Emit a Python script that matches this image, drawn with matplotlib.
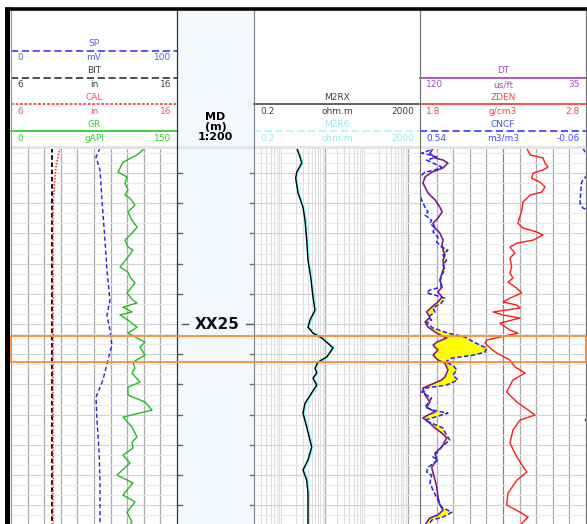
import numpy as np
import matplotlib.pyplot as plt
from matplotlib.ticker import LogLocator, MultipleLocator
from matplotlib.patches import Rectangle
from matplotlib.transforms import blended_transform_factory

W, H = 587, 524
TOP, BOT = 19.17, 31.62   # depth (m) at top / bottom of the data area

# ---- curves (depth in m below XX00) ----
gr_depth = [19.17, 19.40, 19.64, 19.97, 20.13, 20.33, 20.56, 20.73, 20.83, 21.06,
            21.29, 21.56, 21.79, 21.99, 22.22, 22.45, 22.55, 22.78, 23.11, 23.28,
            23.44, 23.64, 23.97, 24.21, 24.30, 24.44, 24.60, 24.70, 24.87, 25.10,
            25.30, 25.60, 25.76, 26.03, 26.26, 26.46, 26.62, 26.92, 27.09, 27.35,
            27.58, 27.85, 28.08, 28.41, 28.74, 28.91, 29.11, 29.34, 29.60, 30.00,
            30.26, 30.66, 30.89, 31.23, 31.56, 31.70]
gr = [121.1, 113.9, 101.2, 96.7, 104.8, 103.0, 105.7, 103.0, 107.5, 112.0,
      105.7, 109.3, 113.9, 109.3, 103.0, 105.7, 110.2, 105.7, 98.5, 105.7,
      107.5, 112.0, 104.8, 110.2, 113.9, 101.2, 109.3, 98.5, 105.7, 113.9,
      105.7, 121.1, 116.6, 121.1, 110.2, 112.0, 109.3, 116.6, 105.7, 105.7,
      121.1, 127.4, 101.2, 109.3, 113.9, 109.3, 110.2, 101.2, 107.5, 95.8,
      110.2, 101.2, 112.0, 104.8, 109.3, 106.0]

sp_depth = [19.17, 19.47, 19.90, 20.89, 22.22, 23.21, 24.21, 24.70, 25.20, 25.70,
            26.19, 26.85, 27.42, 28.18, 29.17, 30.17, 31.70]
sp = [53.6, 51.2, 53.6, 54.8, 56.6, 57.8, 59.6, 57.8, 59.6, 60.8,
      58.4, 55.4, 51.2, 51.8, 53.0, 53.6, 53.6]

bit_depth = [19.17, 31.70]
bit = [8.48, 8.48]
cal_depth = [19.17, 19.74, 20.40, 21.23, 31.70]
cal = [8.95, 8.72, 8.60, 8.53, 8.53]

res_depth = [19.17, 19.47, 19.67, 19.97, 20.17, 20.66, 21.13, 21.56, 22.22, 22.88,
             23.44, 24.11, 24.54, 24.87, 25.10, 25.30, 25.46, 25.60, 25.79, 26.09,
             26.26, 26.46, 26.62, 26.79, 27.02, 27.28, 27.62, 27.95, 28.41, 29.07,
             29.50, 29.83, 30.17, 30.60, 31.26, 31.70]
m2rx = [2.14, 2.57, 2.82, 2.14, 2.02, 2.30, 3.03, 3.39, 3.72, 4.0,
        4.65, 5.28, 5.90, 4.47, 4.0, 5.28, 8.55, 11.3, 16.0, 11.3,
        6.97, 5.90, 6.49, 5.28, 6.49, 4.91, 3.39, 3.03, 3.72, 4.91,
        4.0, 3.03, 3.72, 4.0, 4.0, 4.0]
m2r6 = [2.22, 2.67, 2.93, 2.22, 2.10, 2.39, 3.15, 3.53, 3.87, 4.16,
        4.84, 5.49, 6.14, 4.65, 4.16, 5.49, 8.89, 11.8, 16.6, 11.8,
        7.25, 6.14, 6.75, 5.49, 6.75, 5.11, 3.53, 3.15, 3.87, 5.11,
        4.16, 3.15, 3.87, 4.16, 4.16, 4.16]

dt_depth = [19.17, 19.34, 19.50, 19.57, 19.67, 19.83, 19.97, 20.13, 20.33, 20.66,
            20.89, 21.13, 21.29, 21.49, 21.66, 21.82, 21.99, 22.22, 22.38, 22.55,
            22.72, 22.88, 23.11, 23.31, 23.54, 23.77, 23.94, 24.11, 24.30, 24.44,
            24.60, 24.77, 24.93, 25.10, 25.26, 25.36, 25.46, 25.60, 25.70, 25.86,
            26.03, 26.19, 26.29, 26.52, 26.75, 26.85, 27.02, 27.12, 27.35, 27.58,
            27.75, 27.91, 28.01, 28.11, 28.28, 28.44, 28.61, 28.77, 29.07, 29.27,
            29.50, 29.74, 29.93, 30.17, 30.40, 30.73, 30.99, 31.16, 31.32, 31.42,
            31.56, 31.70]
dt = [113.2, 114.9, 112.3, 108.2, 105.7, 108.2, 114.0, 117.4, 118.5, 115.9,
      112.3, 109.8, 108.7, 110.8, 113.3, 112.3, 109.8, 108.2, 108.7, 108.2,
      107.2, 108.2, 107.7, 108.7, 109.8, 108.7, 110.8, 108.7, 111.4, 114.0,
      116.6, 114.9, 117.4, 115.9, 112.3, 109.8, 106.3, 111.4, 113.3, 110.8,
      113.3, 110.8, 107.2, 105.7, 107.2, 108.9, 114.9, 118.5, 117.4, 114.9,
      116.6, 112.3, 115.9, 118.5, 114.9, 112.3, 108.9, 106.3, 108.9, 112.3,
      111.4, 114.0, 113.3, 112.3, 111.4, 110.8, 109.8, 108.2, 110.8, 114.9,
      116.6, 117.5]

cncf_depth = [19.24, 19.34, 19.40, 19.47, 19.57, 19.80, 19.90, 19.97, 20.07, 20.33,
              20.56, 20.89, 21.13, 21.29, 21.39, 21.56, 21.66, 21.82, 21.95, 22.12,
              22.28, 22.45, 22.55, 22.72, 22.88, 23.05, 23.21, 23.38, 23.61, 23.77,
              23.87, 23.97, 24.04, 24.14, 24.30, 24.47, 24.60, 24.77, 24.87, 24.97,
              25.13, 25.30, 25.43, 25.53, 25.70, 25.79, 25.93, 26.03, 26.13, 26.26,
              26.36, 26.52, 26.69, 26.85, 27.02, 27.12, 27.25, 27.45, 27.62, 27.75,
              27.85, 27.95, 28.08, 28.18, 28.28, 28.44, 28.68, 28.84, 29.07, 29.27,
              29.40, 29.50, 29.74, 29.90, 30.00, 30.26, 30.50, 30.83, 31.06, 31.23,
              31.39, 31.49, 31.70]
cncf = [0.504, 0.534, 0.504, 0.480, 0.516, 0.462, 0.486, 0.522, 0.534, 0.545,
        0.545, 0.534, 0.522, 0.511, 0.522, 0.498, 0.504, 0.486, 0.493, 0.475,
        0.480, 0.462, 0.439, 0.457, 0.444, 0.457, 0.450, 0.462, 0.468, 0.462,
        0.504, 0.516, 0.486, 0.450, 0.462, 0.493, 0.486, 0.511, 0.498, 0.516,
        0.493, 0.439, 0.377, 0.359, 0.323, 0.299, 0.305, 0.348, 0.425, 0.450,
        0.421, 0.407, 0.421, 0.403, 0.444, 0.522, 0.534, 0.498, 0.511, 0.522,
        0.493, 0.439, 0.486, 0.522, 0.498, 0.457, 0.444, 0.432, 0.462, 0.480,
        0.493, 0.475, 0.511, 0.516, 0.498, 0.504, 0.493, 0.475, 0.462, 0.425,
        0.457, 0.498, 0.510]
# neutron values past the left edge, wrapped onto the right side
cncf_wrap_depth = [19.17, 19.34, 19.45, 20.05, 20.13, 20.30, 20.99, 21.16, 21.25,
                   28.10, 28.18, 28.26]
cncf_wrap = [-0.049, -0.058, -0.075, -0.075, -0.058, -0.044, -0.038, -0.049, -0.075,
             -0.075, -0.057, -0.075]

zden_depth = [19.17, 19.40, 19.50, 19.67, 19.80, 19.90, 20.00, 20.17, 20.30, 20.46,
              20.63, 20.73, 20.96, 21.23, 21.66, 21.82, 21.95, 22.05, 22.22, 22.32,
              22.45, 22.65, 22.81, 23.11, 23.31, 23.48, 23.61, 23.81, 23.97, 24.14,
              24.27, 24.37, 24.47, 24.60, 24.70, 24.80, 24.97, 25.20, 25.30, 25.43,
              25.53, 25.63, 25.79, 25.96, 26.19, 26.42, 26.62, 26.85, 27.25, 27.58,
              28.01, 28.18, 28.51, 28.94, 29.40, 29.90, 30.17, 30.60, 30.99, 31.23,
              31.39, 31.56, 31.70]
zden = [2.443, 2.463, 2.541, 2.553, 2.571, 2.541, 2.481, 2.473, 2.523, 2.553,
        2.533, 2.463, 2.420, 2.413, 2.390, 2.420, 2.503, 2.541, 2.481, 2.383,
        2.342, 2.372, 2.342, 2.352, 2.342, 2.360, 2.330, 2.383, 2.413, 2.342,
        2.300, 2.383, 2.402, 2.240, 2.300, 2.402, 2.282, 2.342, 2.390, 2.282,
        2.202, 2.192, 2.222, 2.262, 2.342, 2.372, 2.433, 2.360, 2.322, 2.383,
        2.493, 2.402, 2.360, 2.342, 2.383, 2.443, 2.383, 2.330, 2.322, 2.402,
        2.451, 2.420, 2.400]

depth_ticks = list(range(20, 32))
depth_labels = {25: 'XX25'}
zone_top, zone_bottom = 25.41, 26.24

# track edges in pixels
X1 = (11, 177)
XD = (177, 254)
X3 = (254, 420)
X4 = (420, 586)
DATA_TOP = 148


def frac(x0, y0, x1, y1):
    return [x0 / W, 1 - y1 / H, (x1 - x0) / W, (y1 - y0) / H]


fig = plt.figure(figsize=(W / 100, H / 100), dpi=100)
bg = fig.add_axes([0, 0, 1, 1])
bg.set_xlim(0, W)
bg.set_ylim(H, 0)
bg.axis('off')
bg.add_patch(Rectangle((XD[0], 11), XD[1] - XD[0], H - 11, color='#f4f8fd', lw=0))


def header(xr, slot, name, unit, lo, hi, color, ls, txt=None):
    txt = txt or color
    x0, x1 = xr
    xm = (x0 + x1) / 2
    yl = 43.5 + 27 * slot
    yline = 51 + 26.7 * slot
    yu = 58 + 26.7 * slot
    kw = dict(va='center', fontsize=6.5, color=txt)
    bg.text(xm, yl, name, ha='center', **kw)
    bg.plot([x0, x1], [yline, yline], color=color, ls=ls, lw=1.3)
    bg.text(x0 + 6, yu, lo, ha='left', **kw)
    bg.text(xm, yu, unit, ha='center', **kw)
    bg.text(x1 - 6, yu, hi, ha='right', **kw)


header(X1, 0, 'SP', 'mV', '0', '100', '#4a4aff', (0, (4, 2)), '#5a5aff')
header(X1, 1, 'BIT', 'in', '6', '16', '#404040', (0, (4, 2)))
header(X1, 2, 'CAL', 'in', '6', '16', '#ff4040', (0, (1.5, 1)), '#ff4d4d')
header(X1, 3, 'GR', 'gAPI', '0', '150', '#33cc33', '-')
header(X3, 2, 'M2RX', 'ohm.m', '0.2', '2000', '#555555', '-', '#404040')
header(X3, 3, 'M2R6', 'ohm.m', '0.2', '2000', '#b0f8f8', (0, (4, 2)), '#8ff0f0')
header(X4, 1, 'DT', 'us/ft', '120', '35', '#a050c0', '-')
header(X4, 2, 'ZDEN', 'g/cm3', '1.8', '2.8', '#ff4040', '-')
header(X4, 3, 'CNCF', 'm3/m3', '0.54', '-0.06', '#4848ff', (0, (4, 2)))
bg.text((XD[0] + XD[1]) / 2, 127, 'MD\n(m)\n1:200', ha='center', va='center',
        fontsize=8, fontweight='bold', linespacing=0.95)


def track(xr):
    ax = fig.add_axes(frac(xr[0], DATA_TOP, xr[1], H))
    ax.set_ylim(BOT, TOP)
    for s in ax.spines.values():
        s.set_visible(False)
    ax.yaxis.set_major_locator(MultipleLocator(1))
    ax.yaxis.set_minor_locator(MultipleLocator(1 / 3))
    ax.tick_params(which='both', length=0, labelbottom=False, labelleft=False)
    ax.grid(axis='y', which='major', color='#d2d2d2', lw=0.8)
    ax.grid(axis='y', which='minor', color='#e9e9e9', lw=0.8)
    return ax


def twin(ax, lim):
    t = ax.twiny()
    t.set_xlim(*lim)
    t.axis('off')
    return t


def vgrid(ax, dark_mid=False):
    for i in range(1, 10):
        c = '#858585' if (dark_mid and i == 5) else '#ababab'
        ax.plot([i / 10, i / 10], [0, 1], transform=ax.transAxes, color=c, lw=0.9, zorder=1)


# track 1: GR / SP / CAL / BIT
ax1 = track(X1)
ax1.set_xlim(0, 150)
vgrid(ax1)
ax_sp = twin(ax1, (0, 100))
ax_cal = twin(ax1, (6, 16))
ax_cal.plot(bit, bit_depth, color='black', ls=(0, (2.5, 1.5)), lw=1.3)
ax_cal.plot(cal, cal_depth, color='#ff2020', ls=(0, (1, 1)), lw=1.1)
ax_sp.plot(sp, sp_depth, color='#2020ee', ls=(0, (3, 2)), lw=1.0)
ax1.plot(gr, gr_depth, color='#22bb22', lw=1.0)

# depth column
axd = fig.add_axes(frac(XD[0], DATA_TOP, XD[1], H), facecolor='none')
axd.set_ylim(BOT, TOP)
axd.axis('off')
ty = axd.get_yaxis_transform()
for d in depth_ticks:
    if d in depth_labels:
        axd.plot([0.06, 0.14], [d, d], transform=ty, color='#555555', lw=1.0)
        axd.plot([0.90, 0.99], [d, d], transform=ty, color='#555555', lw=1.0)
        axd.text(0.52, d, depth_labels[d], transform=ty, ha='center', va='center',
                 fontsize=11, fontweight='bold', color='#111111')
    else:
        axd.plot([0.0, 0.06], [d, d], transform=ty, color='#666666', lw=1.0)
        axd.plot([0.95, 1.0], [d, d], transform=ty, color='#666666', lw=1.0)

# track 3: resistivity, log scale
ax3 = track(X3)
ax3.set_xscale('log')
ax3.set_xlim(0.2, 2000)
ax3.xaxis.set_major_locator(LogLocator(base=10))
ax3.xaxis.set_minor_locator(LogLocator(base=10, subs=np.arange(2, 10), numticks=20))
ax3.tick_params(which='both', length=0, labelbottom=False)
ax3.grid(axis='x', which='major', color='#a8a8a8', lw=0.9)
ax3.grid(axis='x', which='minor', color='#dedede', lw=0.8)
ax3.plot(m2r6, res_depth, color='#80ffff', lw=1.8)
ax3.plot(m2rx, res_depth, color='black', lw=1.0)

# track 4: DT / ZDEN / CNCF
ax4 = track(X4)
ax4.set_xlim(120, 35)
vgrid(ax4, dark_mid=True)
ax_den = twin(ax4, (1.8, 2.8))
ax_neu = twin(ax4, (0.54, -0.06))

# neutron mapped onto the sonic scale for the crossover shading
cn_dt = 120 + (np.array(cncf) - 0.54) / (-0.06 - 0.54) * (35 - 120)
z = np.linspace(TOP, BOT, 2000)
dt_z = np.interp(z, dt_depth, dt)
cn_z = np.interp(z, cncf_depth, cn_dt)
ax4.fill_betweenx(z, dt_z, cn_z, where=cn_z < dt_z, color='#ffff00', lw=0,
                  interpolate=True, zorder=2)
ax_neu.plot(cncf, cncf_depth, color='#2222ff', ls=(0, (3, 1.5)), lw=1.1)
ax_neu.plot(cncf_wrap, cncf_wrap_depth, color='#2222ff', ls=(0, (3, 1.5)), lw=1.1)
ax4.plot(dt, dt_depth, color='#7d1f85', lw=1.2, zorder=3)
ax_den.plot(zden, zden_depth, color='#ff1a1a', lw=1.0)

# borders and frame
ov = fig.add_axes([0, 0, 1, 1], facecolor='none')
ov.set_xlim(0, W)
ov.set_ylim(H, 0)
ov.axis('off')
ov.plot([X1[0], X4[1]], [146.5, 146.5], color='#e4e4e4', lw=2.2)
for x, c in [(X1[0], '#999999'), (XD[0], '#333333'), (XD[1], '#888888'),
             (X4[0], '#777777'), (X4[1], '#777777')]:
    ov.plot([x, x], [11, H], color=c, lw=0.9)
ov.plot([5, W], [8.8, 8.8], color='black', lw=2.6, solid_capstyle='butt')
ov.plot([7.3, 7.3], [7, H], color='black', lw=3.6, solid_capstyle='butt')

# highlighted interval
axz = fig.add_axes(frac(10.5, DATA_TOP, 585.5, H), facecolor='none')
axz.set_ylim(BOT, TOP)
axz.axis('off')
tz = blended_transform_factory(axz.transAxes, axz.transData)
axz.add_patch(Rectangle((0, zone_top), 1, zone_bottom - zone_top, transform=tz,
                        fill=False, edgecolor='#ff8c2e', lw=1.3, clip_on=False))

fig.savefig('out.png', dpi=100)
